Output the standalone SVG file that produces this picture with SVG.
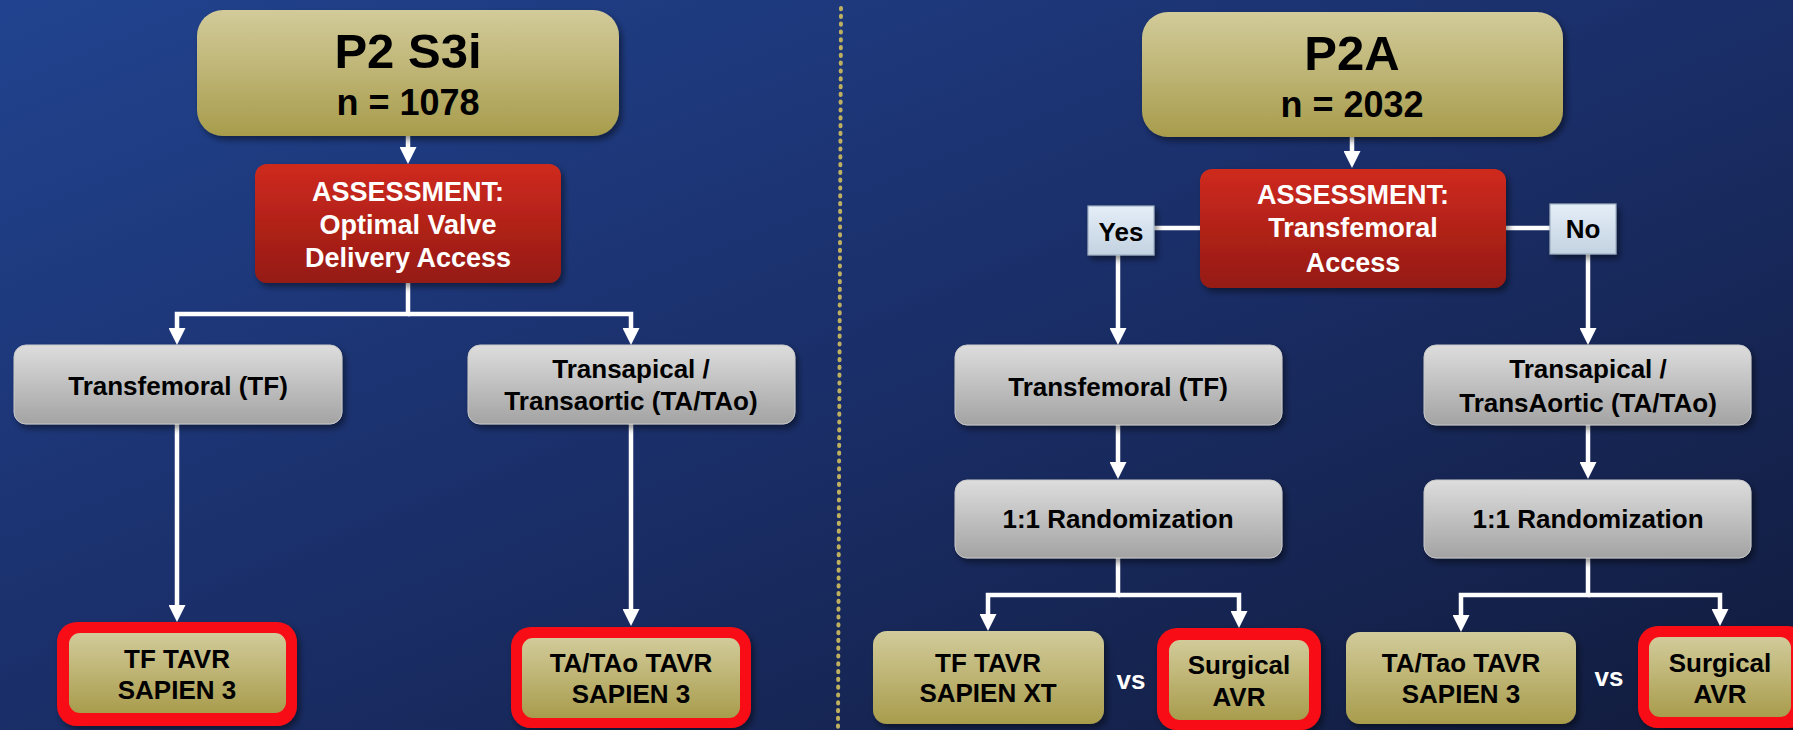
<svg xmlns="http://www.w3.org/2000/svg" width="1793" height="730" viewBox="0 0 1793 730">
<defs>
<linearGradient id="bg" x1="0" y1="0" x2="1" y2="1">
<stop offset="0" stop-color="#21438f"/>
<stop offset="0.5" stop-color="#1a2e68"/>
<stop offset="1" stop-color="#111b3c"/>
</linearGradient>
<linearGradient id="gold" x1="0" y1="0" x2="0" y2="1">
<stop offset="0" stop-color="#d2cb9a"/>
<stop offset="1" stop-color="#a89c4c"/>
</linearGradient>
<linearGradient id="grey" x1="0" y1="0" x2="0" y2="1">
<stop offset="0" stop-color="#dddddd"/>
<stop offset="1" stop-color="#a3a3a3"/>
</linearGradient>
<linearGradient id="red" x1="0" y1="0" x2="0" y2="1">
<stop offset="0" stop-color="#cf2a1f"/>
<stop offset="1" stop-color="#951a12"/>
</linearGradient>
<linearGradient id="blue" x1="0" y1="0" x2="0" y2="1">
<stop offset="0" stop-color="#e4eef8"/>
<stop offset="1" stop-color="#c3d2e1"/>
</linearGradient>
<filter id="sh" x="-10%" y="-10%" width="130%" height="140%">
<feDropShadow dx="3" dy="4" stdDeviation="3" flood-color="#000" flood-opacity="0.45"/>
</filter>
<marker id="ah" viewBox="0 0 10 10" refX="4.1" refY="5" markerWidth="17" markerHeight="17" markerUnits="userSpaceOnUse" orient="auto">
<path d="M0,0 L10,5 L0,10 z" fill="#ffffff"/>
</marker>
<style>
text{font-family:"Liberation Sans",Arial,sans-serif;font-weight:bold;text-anchor:middle}
.dark{fill:#000}
.white{fill:#fff}
.title{font-size:49px}
.n{font-size:36px}
.as{font-size:27px}
.t{font-size:26px}
.gold{fill:url(#gold);filter:url(#sh)}
.grey{fill:url(#grey);stroke:#c8c8c8;stroke-width:1;filter:url(#sh)}
.redbox{fill:url(#red);filter:url(#sh)}
.yn{fill:url(#blue);stroke:#9fb0c2;stroke-width:1.2;filter:url(#sh)}
.hl{fill:#f80d14;filter:url(#sh)}
.conn path{fill:none;stroke:#fff;stroke-width:4.5}
</style>
</defs>
<rect x="0" y="0" width="1793" height="730" fill="url(#bg)"/>
<line x1="841" y1="8" x2="838" y2="728" stroke="#bfb060" stroke-width="4" stroke-linecap="round" stroke-dasharray="1.2 6.6"/>

<g id="connectors" class="conn">
<path d="M408,136 V154" marker-end="url(#ah)"/>
<path d="M408,283 V314 H177 V335" marker-end="url(#ah)"/>
<path d="M408,314 H631 V335" marker-end="url(#ah)"/>
<path d="M177,424 V612" marker-end="url(#ah)"/>
<path d="M631,424 V616" marker-end="url(#ah)"/>
<path d="M1352,137 V158" marker-end="url(#ah)"/>
<path d="M1154,228 H1200"/>
<path d="M1506,228 H1550"/>
<path d="M1118,255 V335" marker-end="url(#ah)"/>
<path d="M1588,254 V335" marker-end="url(#ah)"/>
<path d="M1118,425 V469" marker-end="url(#ah)"/>
<path d="M1588,425 V469" marker-end="url(#ah)"/>
<path d="M1118,558 V595 H988 V621" marker-end="url(#ah)"/>
<path d="M1118,595 H1239 V618" marker-end="url(#ah)"/>
<path d="M1588,558 V595 H1461 V622" marker-end="url(#ah)"/>
<path d="M1588,595 H1720 V616" marker-end="url(#ah)"/>
</g>

<g id="p2s3i">
<rect class="gold" x="197" y="10" width="422" height="126" rx="26"/>
<text class="dark title" x="408" y="68">P2 S3i</text>
<text class="dark n" x="408" y="115">n = 1078</text>
</g>
<g id="assess-left">
<rect class="redbox" x="255" y="164" width="306" height="119" rx="12"/>
<text class="white as" x="408" y="201">ASSESSMENT:</text>
<text class="white as" x="408" y="234">Optimal Valve</text>
<text class="white as" x="408" y="267">Delivery Access</text>
</g>
<g id="tf-left">
<rect class="grey" x="14" y="345" width="328" height="79" rx="12"/>
<text class="dark t" x="178" y="395">Transfemoral (TF)</text>
</g>
<g id="ta-left">
<rect class="grey" x="468" y="345" width="327" height="79" rx="12"/>
<text class="dark t" x="631" y="378">Transapical /</text>
<text class="dark t" x="631" y="410">Transaortic (TA/TAo)</text>
</g>
<g id="tf-tavr-s3">
<rect class="hl" x="57" y="622" width="240" height="104" rx="20"/>
<rect fill="url(#gold)" x="69" y="633" width="217" height="80" rx="11"/>
<text class="dark t" x="177" y="668">TF TAVR</text>
<text class="dark t" x="177" y="699">SAPIEN 3</text>
</g>
<g id="ta-tavr-s3">
<rect class="hl" x="511" y="627" width="240" height="101" rx="20"/>
<rect fill="url(#gold)" x="522" y="638" width="218" height="80" rx="11"/>
<text class="dark t" x="631" y="672">TA/TAo TAVR</text>
<text class="dark t" x="631" y="703">SAPIEN 3</text>
</g>

<g id="p2a">
<rect class="gold" x="1142" y="12" width="421" height="125" rx="26"/>
<text class="dark title" x="1352" y="70">P2A</text>
<text class="dark n" x="1352" y="117">n = 2032</text>
</g>
<g id="assess-right">
<rect class="redbox" x="1200" y="169" width="306" height="119" rx="12"/>
<text class="white as" x="1353" y="204">ASSESSMENT:</text>
<text class="white as" x="1353" y="237">Transfemoral</text>
<text class="white as" x="1353" y="272">Access</text>
</g>
<g id="yes">
<rect class="yn" x="1088" y="206" width="66" height="49"/>
<text class="dark t" x="1121" y="241">Yes</text>
</g>
<g id="no">
<rect class="yn" x="1550" y="204" width="66" height="50"/>
<text class="dark t" x="1583" y="238">No</text>
</g>
<g id="tf-right">
<rect class="grey" x="955" y="345" width="327" height="80" rx="12"/>
<text class="dark t" x="1118" y="396">Transfemoral (TF)</text>
</g>
<g id="ta-right">
<rect class="grey" x="1424" y="345" width="327" height="80" rx="12"/>
<text class="dark t" x="1588" y="378">Transapical /</text>
<text class="dark t" x="1588" y="412">TransAortic (TA/TAo)</text>
</g>
<g id="rand-left">
<rect class="grey" x="955" y="480" width="327" height="78" rx="12"/>
<text class="dark t" x="1118" y="528">1:1 Randomization</text>
</g>
<g id="rand-right">
<rect class="grey" x="1424" y="480" width="327" height="78" rx="12"/>
<text class="dark t" x="1588" y="528">1:1 Randomization</text>
</g>
<g id="tf-tavr-xt">
<rect class="gold" x="873" y="631" width="231" height="93" rx="14"/>
<text class="dark t" x="988" y="672">TF TAVR</text>
<text class="dark t" x="988" y="702">SAPIEN XT</text>
</g>
<text class="white t" x="1131" y="689">vs</text>
<g id="savr-1">
<rect class="hl" x="1157" y="628" width="164" height="102" rx="20"/>
<rect fill="url(#gold)" x="1169" y="640" width="140" height="80" rx="11"/>
<text class="dark t" x="1239" y="674">Surgical</text>
<text class="dark t" x="1239" y="706">AVR</text>
</g>
<g id="ta-tavr-s3-right">
<rect class="gold" x="1346" y="632" width="230" height="92" rx="14"/>
<text class="dark t" x="1461" y="672">TA/Tao TAVR</text>
<text class="dark t" x="1461" y="703">SAPIEN 3</text>
</g>
<text class="white t" x="1609" y="686">vs</text>
<g id="savr-2">
<rect class="hl" x="1638" y="626" width="170" height="102" rx="20"/>
<rect fill="url(#gold)" x="1649" y="637" width="142" height="80" rx="11"/>
<text class="dark t" x="1720" y="672">Surgical</text>
<text class="dark t" x="1720" y="703">AVR</text>
</g>
</svg>
